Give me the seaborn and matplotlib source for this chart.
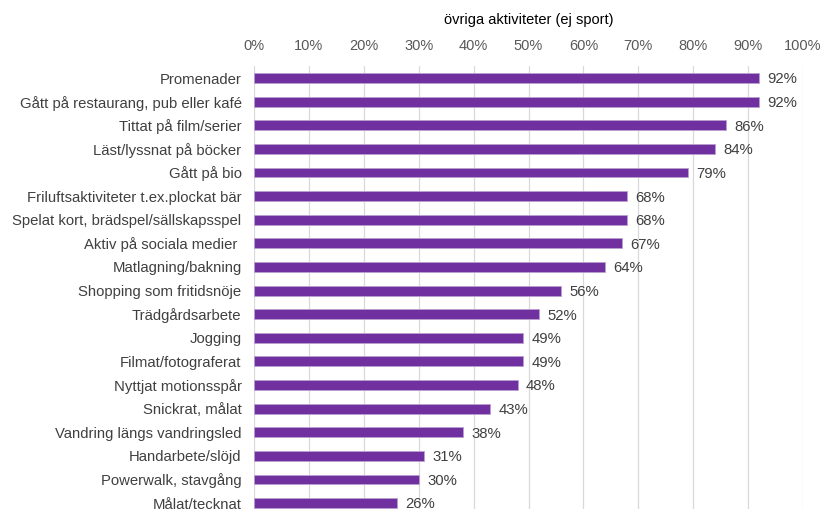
import matplotlib
matplotlib.use("Agg")
import matplotlib.pyplot as plt
import seaborn as sns
import pandas as pd
from matplotlib.ticker import FixedLocator

categories = [
    "Promenader",
    "Gått på restaurang, pub eller kafé",
    "Tittat på film/serier",
    "Läst/lyssnat på böcker",
    "Gått på bio",
    "Friluftsaktiviteter t.ex.plockat bär",
    "Spelat kort, brädspel/sällskapsspel",
    "Aktiv på sociala medier ",
    "Matlagning/bakning",
    "Shopping som fritidsnöje",
    "Trädgårdsarbete",
    "Jogging",
    "Filmat/fotograferat",
    "Nyttjat motionsspår",
    "Snickrat, målat",
    "Vandring längs vandringsled",
    "Handarbete/slöjd",
    "Powerwalk, stavgång",
    "Målat/tecknat",
]
values = [92, 92, 86, 84, 79, 68, 68, 67, 64, 56, 52, 49, 49, 48, 43, 38, 31, 30, 26]
tick_values = [0, 10, 20, 30, 40, 50, 60, 70, 80, 90, 100]
tick_labels = [f"{t}%" for t in tick_values]
title = "övriga aktiviteter (ej sport)"

sns.set_theme(style="white")
plt.rcParams["font.family"] = ["Liberation Sans", "DejaVu Sans"]

df = pd.DataFrame({"cat": categories, "val": values})

W, H = 821, 509
fig = plt.figure(figsize=(W / 100, H / 100), dpi=100)
left, right, top, bottom = 254, 803, 66, 509
ax = fig.add_axes([left / W, 1 - bottom / H, (right - left) / W, (bottom - top) / H])

sns.barplot(data=df, x="val", y="cat", orient="h", color="#7030A0",
            width=0.42, saturation=1, ax=ax, edgecolor="#B9A0CF", linewidth=0.6)

ax.set_xlim(0, 100)
ax.set_ylim(18.25, -0.51)
ax.xaxis.tick_top()
ax.xaxis.set_major_locator(FixedLocator(tick_values))
ax.set_xticklabels(tick_labels)
ax.tick_params(axis="x", length=0, pad=9, labelsize=10.5, labelcolor="#595959")
ax.tick_params(axis="y", length=0, pad=9, labelsize=10.7, labelcolor="#404040")
ax.set_xlabel("")
ax.set_ylabel("")
for s in ax.spines.values():
    s.set_visible(False)
ax.grid(axis="x", color="#D9D9D9", linewidth=0.9)
ax.set_axisbelow(True)

for i, v in enumerate(values):
    ax.annotate(f"{v}%", xy=(v, i), xytext=(6, -1), textcoords="offset points",
                va="center", ha="left", fontsize=10.7, color="#404040",
                annotation_clip=False)

fig.text((left + right) / 2 / W, 1 - 20 / H, title, ha="center", va="center",
         fontsize=10.5, color="#000000")

fig.savefig("out.png", dpi=100)
